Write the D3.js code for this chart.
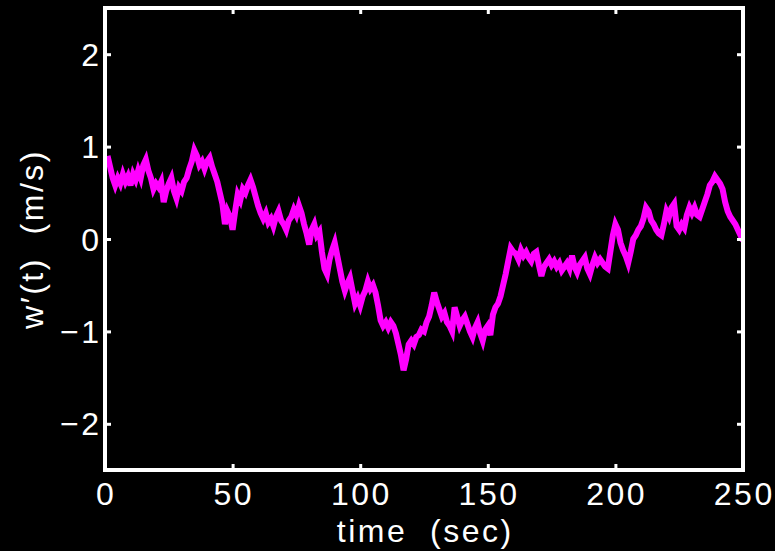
<!DOCTYPE html>
<html>
<head>
<meta charset="utf-8">
<script src="https://cdn.jsdelivr.net/npm/d3@7"></script>
<style>
  html, body { margin: 0; padding: 0; background: #000; }
  svg { display: block; }
  text { font-family: "Liberation Sans", Arial, Helvetica, sans-serif; fill: #fff; white-space: pre; }
</style>
</head>
<body>
<svg id="chart" width="775" height="551"></svg>
<script>
// ---- data ----
const tStart = 1;     // first sample time (sec)
const tStep = 1;      // sample spacing (sec)
const wValues = [
  0.90, 0.78, 0.66, 0.58, 0.66, 0.60, 0.70, 0.62, 0.68, 0.58,
  0.70, 0.64, 0.74, 0.66, 0.80, 0.86, 0.74, 0.66, 0.54, 0.60,
  0.56, 0.62, 0.40, 0.52, 0.60, 0.66, 0.52, 0.44, 0.56, 0.52,
  0.62, 0.66, 0.76, 0.84, 0.96, 0.90, 0.80, 0.84, 0.76, 0.84,
  0.88, 0.78, 0.70, 0.62, 0.50, 0.38, 0.16, 0.30, 0.24, 0.10,
  0.30, 0.48, 0.42, 0.54, 0.50, 0.58, 0.64, 0.56, 0.46, 0.36,
  0.28, 0.22, 0.28, 0.18, 0.22, 0.14, 0.24, 0.30, 0.20, 0.16,
  0.10, 0.20, 0.24, 0.32, 0.26, 0.36, 0.28, 0.16, 0.06, -0.06,
  0.10, 0.16, 0.04, 0.08, -0.14, -0.32, -0.38, -0.22, -0.12, -0.04,
  -0.18, -0.32, -0.46, -0.56, -0.48, -0.42, -0.56, -0.70, -0.64, -0.72,
  -0.62, -0.56, -0.46, -0.54, -0.50, -0.58, -0.72, -0.88, -0.94, -0.90,
  -0.96, -0.90, -0.94, -1.02, -1.14, -1.26, -1.42, -1.30, -1.14, -1.10,
  -1.14, -1.06, -1.04, -0.98, -1.00, -0.90, -0.84, -0.72, -0.58, -0.68,
  -0.76, -0.84, -0.80, -0.90, -0.94, -1.00, -0.74, -0.84, -0.94, -0.88,
  -0.84, -0.92, -1.00, -1.06, -0.96, -0.90, -1.02, -1.10, -0.98, -0.94,
  -1.04, -0.82, -0.74, -0.70, -0.62, -0.50, -0.38, -0.24, -0.10, -0.14,
  -0.16, -0.22, -0.12, -0.18, -0.14, -0.20, -0.24, -0.16, -0.14, -0.28,
  -0.40, -0.30, -0.26, -0.22, -0.28, -0.24, -0.30, -0.26, -0.34, -0.30,
  -0.26, -0.32, -0.18, -0.30, -0.36, -0.28, -0.24, -0.20, -0.32, -0.38,
  -0.28, -0.20, -0.26, -0.22, -0.26, -0.30, -0.32, -0.14, 0.04, 0.16,
  0.10, -0.04, -0.12, -0.18, -0.26, -0.14, 0.00, 0.04, 0.10, 0.14,
  0.22, 0.34, 0.30, 0.20, 0.16, 0.10, 0.06, 0.04, 0.16, 0.30,
  0.24, 0.34, 0.38, 0.14, 0.10, 0.16, 0.12, 0.26, 0.34, 0.28,
  0.34, 0.26, 0.24, 0.32, 0.40, 0.48, 0.58, 0.62, 0.68, 0.64,
  0.60, 0.54, 0.40, 0.30, 0.24, 0.20, 0.16, 0.10, 0.04, -0.02
];
const xTicks = [0, 50, 100, 150, 200, 250];
const yTicks = [-2, -1, 0, 1, 2];
const xDomain = [0, 250];
const yDomain = [-2.5, 2.5];
const xLabel = "time  (sec)";
const yLabel = "w\u2032(t)  (m/s)";

// ---- layout ----
const svg = d3.select("#chart");
const L = 105, R = 743, T = 8, B = 470;
const x = d3.scaleLinear().domain(xDomain).range([L, R]);
const y = d3.scaleLinear().domain(yDomain).range([B, T]);
const LS = 2.5; // letter spacing
const FS = 32;

const data = wValues.map((v, i) => ({ t: tStart + i * tStep, v }));

// line
svg.append("clipPath").attr("id", "clip")
  .append("rect").attr("x", L).attr("y", T).attr("width", R - L).attr("height", B - T);

svg.append("path")
  .datum(data)
  .attr("clip-path", "url(#clip)")
  .attr("fill", "none")
  .attr("stroke", "#ff00ff")
  .attr("stroke-width", 6)
  .attr("stroke-linejoin", "miter")
  .attr("d", d3.line().x(d => x(d.t)).y(d => y(d.v)));

// frame
svg.append("rect")
  .attr("x", L).attr("y", T).attr("width", R - L).attr("height", B - T)
  .attr("fill", "none").attr("stroke", "#fff").attr("stroke-width", 4);

// axes with inward ticks (box style, ticks on all sides)
const tickLen = 6;
const axB = svg.append("g").attr("transform", `translate(0,${B})`)
  .call(d3.axisBottom(x).tickValues(xTicks).tickSize(-tickLen).tickFormat(""));
const axT = svg.append("g").attr("transform", `translate(0,${T})`)
  .call(d3.axisTop(x).tickValues(xTicks).tickSize(-tickLen).tickFormat(""));
const axL = svg.append("g").attr("transform", `translate(${L},0)`)
  .call(d3.axisLeft(y).tickValues(yTicks).tickSize(-tickLen).tickFormat(""));
const axR = svg.append("g").attr("transform", `translate(${R},0)`)
  .call(d3.axisRight(y).tickValues(yTicks).tickSize(-tickLen).tickFormat(""));
[axB, axT, axL, axR].forEach(g => {
  g.select(".domain").remove();
  g.selectAll(".tick line").attr("stroke", "#fff").attr("stroke-width", 3);
});

// tick labels
svg.append("g").selectAll("text").data(xTicks).join("text")
  .attr("x", d => x(d) + LS / 2)
  .attr("y", 505)
  .attr("text-anchor", "middle")
  .attr("font-size", FS)
  .attr("letter-spacing", LS)
  .text(d => d);

svg.append("g").selectAll("text").data(yTicks).join("text")
  .attr("x", 99 + LS)
  .attr("y", d => y(d))
  .attr("dy", "0.36em")
  .attr("text-anchor", "end")
  .attr("font-size", FS)
  .attr("letter-spacing", LS)
  .text(d => d < 0 ? "\u2212" + Math.abs(d) : String(d));

// axis titles
svg.append("text")
  .attr("x", (L + R) / 2 + LS / 2)
  .attr("y", 542)
  .attr("text-anchor", "middle")
  .attr("font-size", FS)
  .attr("letter-spacing", LS)
  .text(xLabel);

svg.append("text")
  .attr("transform", `translate(43,${(T + B) / 2}) rotate(-90)`)
  .attr("text-anchor", "middle")
  .attr("font-size", FS)
  .attr("letter-spacing", LS)
  .text(yLabel);
</script>
</body>
</html>
